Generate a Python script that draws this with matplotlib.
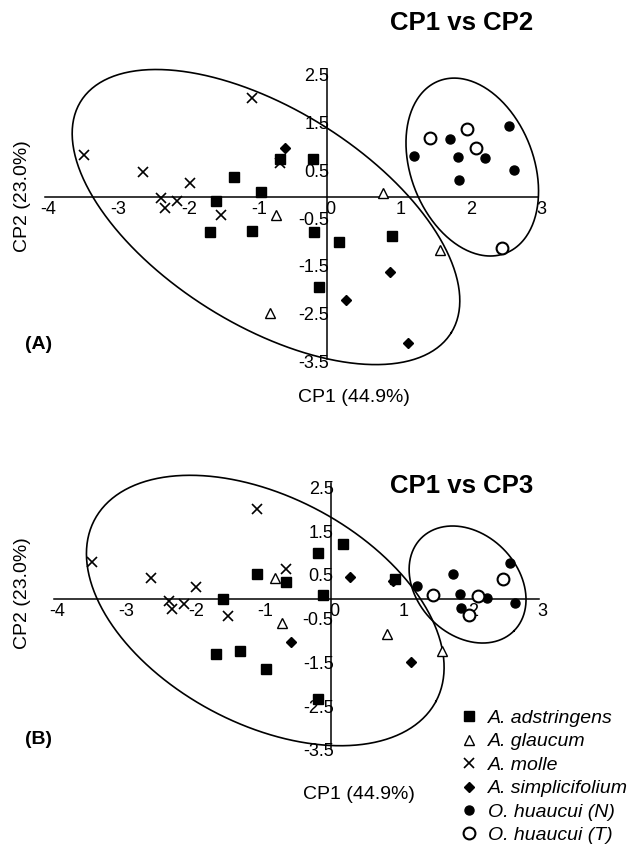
import numpy as np
import matplotlib.pyplot as plt
from matplotlib.lines import Line2D
from matplotlib.transforms import ScaledTranslation

plt.rcParams['font.family'] = ['Liberation Sans', 'DejaVu Sans']
plt.rcParams['axes.unicode_minus'] = False

# scores (CP1 shared by both panels)
adstr_cp1 = [-1.32, -0.94, -1.57, -1.66, -1.07, -0.66, -0.20, -0.19, -0.12, 0.17, 0.92]
adstr_cp2 = [0.42, 0.09, -0.08, -0.73, -0.71, 0.78, 0.79, -0.74, -1.88, -0.95, -0.83]
adstr_cp3 = [-1.18, -1.60, 0.00, -1.25, 0.57, 0.40, 1.05, -2.27, 0.10, 1.27, 0.46]

glauc_cp1 = [-0.72, -0.81, 0.80, 1.60]
glauc_cp2 = [-0.38, -2.43, 0.08, -1.11]
glauc_cp3 = [-0.55, 0.49, -0.79, -1.18]

molle_cp1 = [-3.45, -2.61, -1.95, -2.35, -2.13, -2.30, -1.50, -0.66, -1.07]
molle_cp2 = [0.87, 0.51, 0.28, -0.03, -0.08, -0.24, -0.38, 0.70, 2.07]
molle_cp3 = [0.86, 0.49, 0.29, -0.03, -0.11, -0.23, -0.38, 0.69, 2.06]

simpl_cp1 = [-0.59, 0.89, 0.27, 1.15]
simpl_cp2 = [1.02, -1.58, -2.15, -3.07]
simpl_cp3 = [-0.98, 0.43, 0.50, -1.43]

huaN_cp1 = [1.24, 1.75, 1.86, 1.87, 2.24, 2.58, 2.65]
huaN_cp2 = [0.85, 1.20, 0.83, 0.34, 0.82, 1.49, 0.56]
huaN_cp3 = [0.30, 0.58, 0.13, -0.19, 0.02, 0.82, -0.09]

huaT_cp1 = [1.46, 1.98, 2.11, 2.48]
huaT_cp2 = [1.22, 1.41, 1.03, -1.08]
huaT_cp3 = [0.11, -0.35, 0.07, 0.46]

labels = ['A. adstringens', 'A. glaucum', 'A. molle', 'A. simplicifolium',
          'O. huaucui (N)', 'O. huaucui (T)']

xticks = [-4, -3, -2, -1, 0, 1, 2, 3]
yticks = [2.5, 1.5, 0.5, -0.5, -1.5, -2.5, -3.5]

# group ellipses: centre, conjugate half-axes (data units)
ell_top = [((-0.865, -0.425), (2.627, -2.422), (0.811, 1.914)),
           ((2.061, 0.621), (0.474, -1.802), (0.812, 0.465))]
ell_bot = [((-0.955, -0.256), (2.464, -2.078), (0.769, 2.293)),
           ((1.965, 0.339), (0.669, -1.062), (0.514, 0.816))]

styles = [dict(marker='s', ms=7, mfc='black', mec='black'),
          dict(marker='^', ms=7.5, mfc='white', mec='black', mew=1.0),
          dict(marker='x', ms=7, mec='black', mew=1.2),
          dict(marker='D', ms=5.5, mfc='black', mec='black'),
          dict(marker='o', ms=6.5, mfc='black', mec='black'),
          dict(marker='o', ms=8.5, mfc='white', mec='black', mew=1.5)]

fig = plt.figure(figsize=(6.3, 8.46), dpi=100)
ax1 = fig.add_axes([0.0714, 0.5697, 0.7833, 0.339])
ax2 = fig.add_axes([0.0862, 0.1108, 0.7698, 0.3099])


def draw(ax, ys, ellipses):
    xs = [adstr_cp1, glauc_cp1, molle_cp1, simpl_cp1, huaN_cp1, huaT_cp1]
    for x, y, st in zip(xs, ys, styles):
        ax.plot(x, y, ls='none', color='black', zorder=3, clip_on=False, **st)
    t = np.linspace(0, 2 * np.pi, 300)
    for (cx, cy), (ux, uy), (vx, vy) in ellipses:
        ax.plot(cx + ux * np.cos(t) + vx * np.sin(t),
                cy + uy * np.cos(t) + vy * np.sin(t),
                color='black', lw=1.2, clip_on=False, zorder=2)
    ax.set_xlim(-4, 3)
    ax.set_ylim(-3.5, 2.5)
    for s in ['top', 'right']:
        ax.spines[s].set_visible(False)
    ax.spines['left'].set_position(('data', 0))
    ax.spines['bottom'].set_position(('data', 0))
    ax.spines['left'].set_bounds(-3.4, 2.67)
    ax.spines['left'].set_linewidth(1.1)
    ax.spines['bottom'].set_linewidth(1.1)
    ax.set_xticks(xticks)
    ax.set_yticks(yticks)
    ax.set_yticklabels([str(v) for v in yticks])
    ax.tick_params(axis='both', length=0, labelsize=13)
    ax.tick_params(axis='x', pad=3)
    ax.tick_params(axis='y', pad=-1.5)
    ax.patch.set_visible(False)
    for lab in ax.get_xticklabels():
        lab.set_transform(lab.get_transform() + ScaledTranslation(3 / 100, 0, fig.dpi_scale_trans))
    for lab in ax.get_yticklabels():
        lab.set_transform(lab.get_transform() + ScaledTranslation(0, 2.5 / 100, fig.dpi_scale_trans))


draw(ax1, [adstr_cp2, glauc_cp2, molle_cp2, simpl_cp2, huaN_cp2, huaT_cp2], ell_top)
draw(ax2, [adstr_cp3, glauc_cp3, molle_cp3, simpl_cp3, huaN_cp3, huaT_cp3], ell_bot)

fig.text(0.7333, 0.9728, 'CP1 vs CP2', fontsize=18.5, fontweight='bold', ha='center', va='center')
fig.text(0.7333, 0.4255, 'CP1 vs CP3', fontsize=18.5, fontweight='bold', ha='center', va='center')
fig.text(0.0365, 0.7683, 'CP2 (23.0%)', fontsize=14, rotation=90, ha='center', va='center')
fig.text(0.0365, 0.2990, 'CP2 (23.0%)', fontsize=14, rotation=90, ha='center', va='center')
fig.text(0.5619, 0.5307, 'CP1 (44.9%)', fontsize=14, ha='center', va='center')
fig.text(0.5698, 0.0603, 'CP1 (44.9%)', fontsize=14, ha='center', va='center')
fig.text(0.0619, 0.5922, '(A)', fontsize=14, fontweight='bold', ha='center', va='center')
fig.text(0.0619, 0.1253, '(B)', fontsize=14, fontweight='bold', ha='center', va='center')

handles = [Line2D([], [], ls='none', color='black', **st) for st in styles]
fig.legend(handles, labels, loc='upper left', bbox_to_anchor=(0.729, 0.1615),
           frameon=False, borderpad=0, borderaxespad=0, handlelength=1.0,
           handletextpad=0.48, labelspacing=0.3,
           prop={'style': 'italic', 'size': 14})

fig.savefig('out.png', dpi=100)
